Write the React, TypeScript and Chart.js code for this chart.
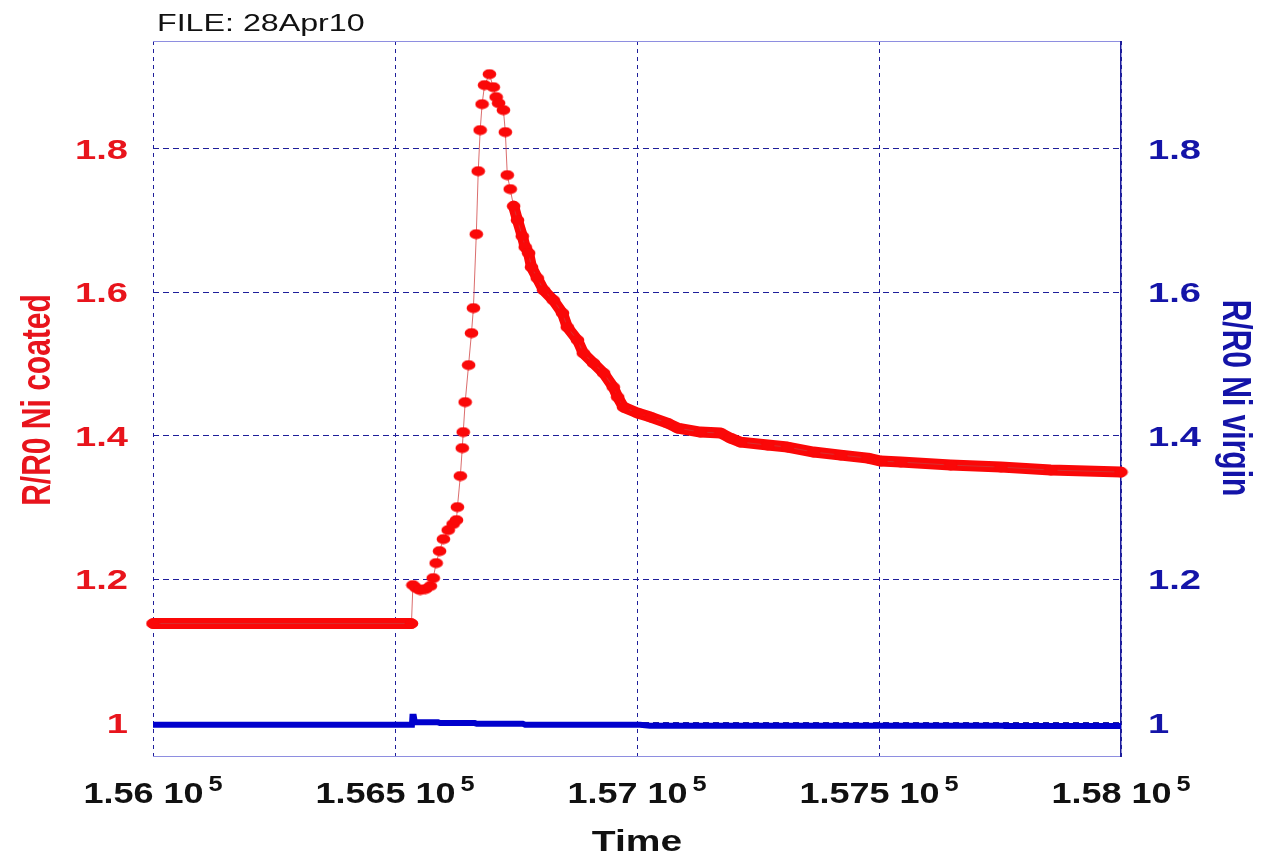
import React, { useEffect, useRef } from "react";
import { Chart, registerables } from "chart.js";

Chart.register(...registerables);

// ---- data ----
const coatedTime = [
  156000, 156534, 156537, 156544, 156552, 156563, 156573, 156579, 156585, 156592,
  156600, 156610, 156620, 156627, 156629, 156635, 156639, 156641, 156645, 156652,
  156658, 156662, 156668, 156672, 156676, 156680, 156685, 156695, 156703, 156709,
  156714, 156724, 156728, 156732, 156738, 156745, 156753, 156763, 156769, 156776,
  156782, 156794, 156807, 156827, 156846, 156856, 156877, 156889, 156910, 156931,
  156951, 156960, 156972, 157001, 157028, 157063, 157084, 157131, 157173, 157193,
  157214, 157270, 157311, 157365, 157421, 157477, 157504, 157545, 157648, 157752,
  157855, 158000,
];
const coatedRatio = [
  1.138, 1.138, 1.1916, 1.1875, 1.1847, 1.1861, 1.1903, 1.2014, 1.2223, 1.239,
  1.2557, 1.2683, 1.2767, 1.2822, 1.3003, 1.3436, 1.3826, 1.4049, 1.4467, 1.4983,
  1.5429, 1.5777, 1.6808, 1.7686, 1.8258, 1.862, 1.8885, 1.9038, 1.8857, 1.8718,
  1.8634, 1.8537, 1.823, 1.7631, 1.7436, 1.7199, 1.7003, 1.678, 1.6627, 1.6544,
  1.6348, 1.6195, 1.6028, 1.5889, 1.5707, 1.5512, 1.5331, 1.515, 1.501, 1.4871,
  1.4676, 1.4537, 1.4397, 1.4314, 1.4258, 1.4174, 1.4105, 1.4049, 1.4035, 1.3965,
  1.3909, 1.3868, 1.384, 1.377, 1.3728, 1.3686, 1.3645, 1.3631, 1.3589, 1.3561,
  1.3519, 1.3491,
];
// dense stretches (where the markers merge into a solid band)
const denseUntil = 156534;
const denseFrom = 156745;

const virginTime = [
  156000, 156535, 156536, 156539, 156541, 156589, 156593, 156665, 156669, 156764,
  156769, 157006, 157027, 157756, 157760, 158000,
];
const virginRatio = [
  0.997, 0.997, 1.008, 1.008, 1.0005, 1.0003, 0.9993, 0.9993, 0.9983, 0.9983,
  0.9969, 0.9969, 0.9955, 0.9955, 0.9951, 0.9951,
];

const xTickValues = [156000, 156500, 157000, 157500, 158000];
const xTickLabels = ["1.56", "1.565", "1.57", "1.575", "1.58"];
const xTickExponent = "5";
const yTickValues = [1, 1.2, 1.4, 1.6, 1.8];
const yTickLabels = ["1", "1.2", "1.4", "1.6", "1.8"];

const fileTitle = "FILE: 28Apr10";
const xTitle = "Time";
const leftTitle = "R/R0 Ni coated";
const rightTitle = "R/R0 Ni virgin";

// ---- styles ----
const RED = "#fa0808";
const RED_LABEL = "#e8141c";
const BLUE = "#0000cd";
const BLUE_LABEL = "#1414a8";
const GRID = "#1e1e9a";
const FONT = "'Liberation Sans', Arial, Helvetica, sans-serif";

function drawText(
  ctx: CanvasRenderingContext2D,
  text: string,
  x: number,
  y: number,
  font: string,
  color: string,
  align: CanvasTextAlign,
  stretch: number,
  rot = 0
) {
  ctx.save();
  ctx.translate(x, y);
  if (rot) {
    ctx.rotate(rot);
    ctx.scale(1, stretch);
  } else {
    ctx.scale(stretch, 1);
  }
  ctx.font = font;
  ctx.fillStyle = color;
  ctx.textAlign = align;
  ctx.textBaseline = "alphabetic";
  ctx.fillText(text, 0, 0);
  ctx.restore();
}

export default function App() {
  const ref = useRef<HTMLCanvasElement>(null);

  useEffect(() => {
    document.body.style.margin = "0";
    document.body.style.overflow = "hidden";
    const canvas = ref.current!;

    const dot = document.createElement("canvas");
    dot.width = 15;
    dot.height = 11;
    const dctx = dot.getContext("2d")!;
    dctx.fillStyle = RED;
    dctx.beginPath();
    dctx.ellipse(7.5, 5.5, 6.8, 5, 0, 0, Math.PI * 2);
    dctx.fill();

    const coatedPoints = coatedTime.map((t, i) => ({ x: t, y: coatedRatio[i] }));
    const bandPoints = coatedTime.map((t, i) => ({
      x: t,
      y: t <= denseUntil || t >= denseFrom ? coatedRatio[i] : null,
    }));
    const virginPoints = virginTime.map((t, i) => ({ x: t, y: virginRatio[i] }));

    const decor = {
      id: "decor",
      beforeDatasetsDraw(chart: any) {
        const { ctx, chartArea: a } = chart;
        ctx.save();
        ctx.fillStyle = "#8e8ee0";
        ctx.fillRect(a.left, a.top, a.right - a.left, 1);
        ctx.fillRect(a.left, a.bottom - 1, a.right - a.left, 1);
        ctx.fillStyle = "#1c1c9c";
        ctx.fillRect(a.right - 1, a.top, 1.5, a.bottom - a.top);
        ctx.restore();
      },
      afterDraw(chart: any) {
        const ctx: CanvasRenderingContext2D = chart.ctx;
        const xs = chart.scales.x;
        const ys = chart.scales.y;
        const ys2 = chart.scales.y2;

        drawText(ctx, fileTitle, 157, 31, `23px ${FONT}`, "#111", "left", 1.4);

        const tickFont = `bold 28px ${FONT}`;
        yTickValues.forEach((v, i) => {
          drawText(ctx, yTickLabels[i], 128, ys.getPixelForValue(v) + 10, tickFont, RED_LABEL, "right", 1.36);
          drawText(ctx, yTickLabels[i], 1148, ys2.getPixelForValue(v) + 10, tickFont, BLUE_LABEL, "left", 1.36);
        });

        const mainFont = `bold 30px ${FONT}`;
        const supFont = `bold 22px ${FONT}`;
        xTickValues.forEach((v, i) => {
          const px = xs.getPixelForValue(v);
          const main = `${xTickLabels[i]} 10`;
          ctx.font = mainFont;
          const w1 = ctx.measureText(main).width * 1.2;
          ctx.font = supFont;
          const w2 = ctx.measureText(xTickExponent).width * 1.15;
          const gap = 5;
          const start = px - (w1 + gap + w2) / 2;
          drawText(ctx, main, start, 803, mainFont, "#111", "left", 1.2);
          drawText(ctx, xTickExponent, start + w1 + gap, 791, supFont, "#111", "left", 1.15);
        });

        drawText(ctx, xTitle, 637, 851, `bold 30px ${FONT}`, "#111", "center", 1.3);
        drawText(ctx, leftTitle, 50, 400, `bold 30px ${FONT}`, RED_LABEL, "center", 1.36, -Math.PI / 2);
        drawText(ctx, rightTitle, 1223, 398, `bold 30px ${FONT}`, BLUE_LABEL, "center", 1.36, Math.PI / 2);
      },
    };

    const setTicks = (vals: number[]) => (s: any) => {
      s.ticks = vals.map((v) => ({ value: v }));
    };

    const chart = new Chart(canvas, {
      type: "line",
      data: {
        datasets: [
          {
            label: "coated markers",
            data: coatedPoints,
            yAxisID: "y",
            borderColor: "rgba(205,60,60,0.75)",
            borderWidth: 1,
            pointStyle: dot as any,
            pointRadius: 5,
            pointBackgroundColor: RED,
            pointBorderWidth: 0,
            tension: 0,
            clip: 8,
          },
          {
            label: "coated band",
            data: bandPoints as any,
            yAxisID: "y",
            borderColor: RED,
            borderWidth: 11,
            borderCapStyle: "round",
            borderJoinStyle: "round",
            pointRadius: 0,
            spanGaps: false,
            tension: 0,
            clip: 8,
          },
          {
            label: "virgin",
            data: virginPoints,
            yAxisID: "y2",
            borderColor: BLUE,
            borderWidth: 6,
            borderJoinStyle: "miter",
            pointRadius: 0,
            tension: 0,
            clip: 4,
          },
        ],
      },
      options: {
        animation: false,
        responsive: false,
        devicePixelRatio: 1,
        layout: { padding: { left: 153, right: 145, top: 41, bottom: 100 } },
        plugins: {
          legend: { display: false },
          tooltip: { enabled: false },
        },
        scales: {
          x: {
            type: "linear",
            position: "bottom",
            min: 156000,
            max: 158000,
            afterBuildTicks: setTicks(xTickValues),
            ticks: { display: false },
            grid: { color: GRID, lineWidth: 1, drawTicks: false },
            border: { display: false, dash: [4, 4] },
          },
          y: {
            type: "linear",
            position: "left",
            min: 0.952,
            max: 1.95,
            afterBuildTicks: setTicks(yTickValues),
            ticks: { display: false },
            grid: { color: GRID, lineWidth: 1, drawTicks: false },
            border: { display: false, dash: [6, 4] },
          },
          y2: {
            type: "linear",
            position: "right",
            min: 0.952,
            max: 1.95,
            afterBuildTicks: setTicks(yTickValues),
            ticks: { display: false },
            grid: { display: false, drawTicks: false },
            border: { display: false },
          },
        },
      },
      plugins: [decor],
    } as any);

    return () => chart.destroy();
  }, []);

  return (
    <canvas
      ref={ref}
      width={1266}
      height={857}
      style={{ display: "block", width: 1266, height: 857 }}
    />
  );
}
